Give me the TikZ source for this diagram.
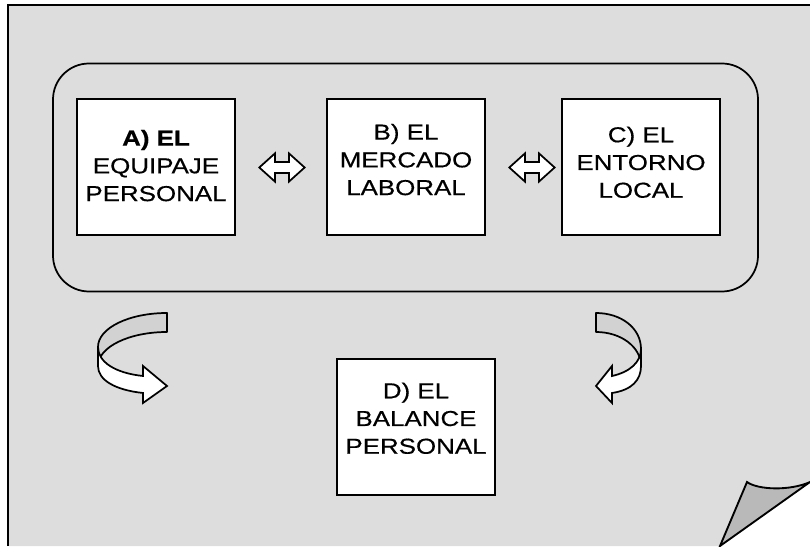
\documentclass[tikz,border=0pt]{standalone}
\usepackage{fontspec}
\setmainfont{Liberation Sans}[FakeStretch=1.2, FakeBold=0.5]
\usepackage{tikz}
\usetikzlibrary{positioning, shapes.arrows, calc}
\definecolor{pagefill}{RGB}{221,221,221}
\definecolor{curlfill}{RGB}{185,185,185}
\definecolor{ribbonfill}{RGB}{210,210,210}
\tikzset{
  stagebox/.style={
    rectangle, draw=black, line width=1.5pt,
    fill=white,
    minimum width=118.5pt, minimum height=102pt,
    align=center, inner sep=0pt,
    font=\fontsize{16.2}{20.8}\selectfont
  },
  linkarrow/.style={
    double arrow, draw=black, line width=1.3pt, fill=white,
    minimum height=34pt, minimum width=18pt, inner xsep=0pt, inner ysep=3.4pt,
    double arrow head extend=6.5pt, double arrow tip angle=84
  },
  groupframe/.style={draw=black, line width=1.3pt, rounded corners=27pt},
  pageline/.style={draw=black, line width=1.4pt},
  ribbonback/.style={draw=black, line width=1.3pt, fill=ribbonfill, line join=round},
  ribbonfront/.style={draw=black, line width=1.3pt, fill=white, line join=miter}
}

\begin{document}
\begin{tikzpicture}[x=0.75pt, y=0.75pt]
  \useasboundingbox (0,0) rectangle (810,546);

  % sheet with the folded corner
  \fill[pagefill] (8,541) -- (810,541) -- (810,64) -- (720,0) -- (8,0) -- cycle;
  \draw[pageline] (8,0) -- (8,541) -- (810,541);
  \draw[pageline, fill=curlfill] (720,0) -- (747,64)
    .. controls (758,56) and (790,55) .. (810,64) -- cycle;

  % the three factors
  \node[stagebox, text depth=3pt] (a) at (156,378.5)
    {\textbf{A) EL}\\EQUIPAJE\\PERSONAL};
  \node[stagebox, right=67.5pt of a, text depth=12pt] (b) {B) EL\\MERCADO\\LABORAL};
  \node[stagebox, right=56.25pt of b, text depth=8pt] (c) {C) EL\\ENTORNO\\LOCAL};
  \node[stagebox, below=91.5pt of b, xshift=7.5pt, text depth=14pt] (d)
    {D) EL\\BALANCE\\PERSONAL};

  \node[linkarrow, right=16.5pt of a] (ab) {};
  \node[linkarrow, right=16.5pt of b] (bc) {};

  \draw[groupframe] ($(a.north west)+(-23,35)$) rectangle ($(c.south east)+(37,-55)$);

  % turning ribbons down to the balance
  \draw[ribbonback] (167,233) .. controls (129,233) and (98,218) .. (98,199)
    -- (98,180) .. controls (98,199) and (129,214) .. (167,214) -- cycle;
  \draw[ribbonfront] (98,199) .. controls (98,184) and (115,173) .. (143,170)
    -- (143,180) -- (167,160) -- (143,143) -- (143,153)
    .. controls (115,156) and (98,166) .. (98,180) -- cycle;

  \draw[ribbonback] (596,233) .. controls (621,233) and (641,218) .. (641,197)
    -- (641,180) .. controls (641,199) and (621,214) .. (596,214) -- cycle;
  \draw[ribbonfront] (641,197) .. controls (641,184) and (630,174) .. (612,170)
    -- (612,180) -- (596,160) -- (612,143) -- (612,153)
    .. controls (632,156) and (641,166) .. (641,180) -- cycle;
\end{tikzpicture}
\end{document}
